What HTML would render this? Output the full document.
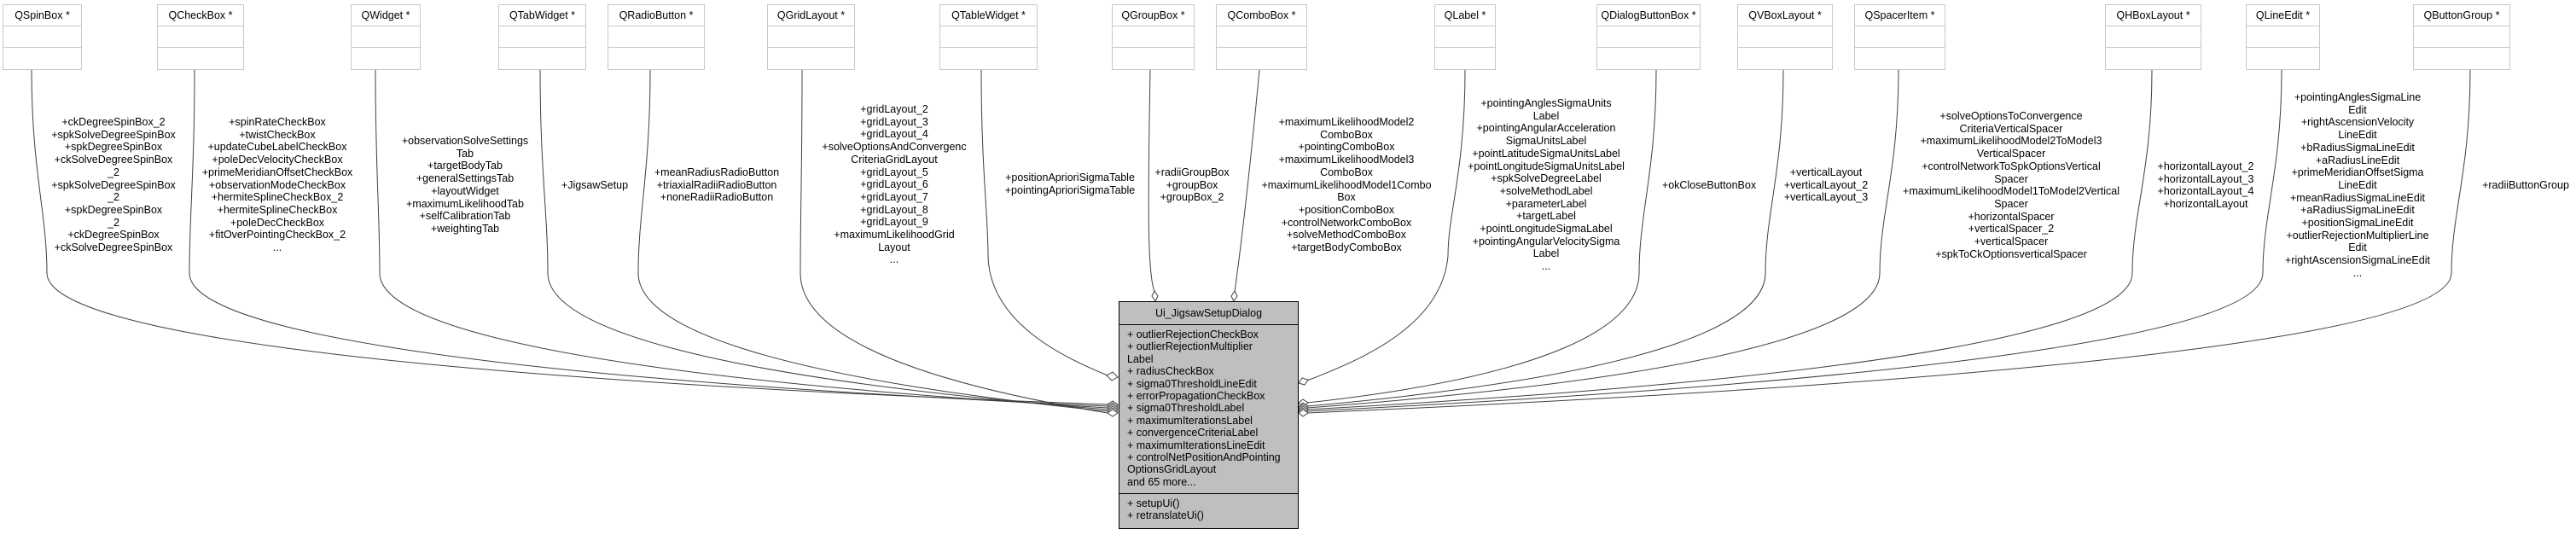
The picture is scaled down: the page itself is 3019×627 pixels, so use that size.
<!DOCTYPE html>
<html><head><meta charset="utf-8"><style>
body{margin:0;width:3019px;height:627px;background:#fff;position:relative;overflow:hidden;font-family:"Liberation Sans",sans-serif;}
.b{position:absolute;top:5px;height:77px;border:1px solid #c8c8c8;box-sizing:border-box;background:#fff;}
.b div{height:25px;border-bottom:1px solid #c8c8c8;box-sizing:border-box;font-size:12.5px;text-align:center;line-height:25px;white-space:nowrap;}
.b div:last-child{border-bottom:none}
.l{position:absolute;font-size:12.5px;line-height:14.7px;text-align:center;white-space:nowrap;transform:translateX(-50%);}
#c{position:absolute;left:1311px;top:353px;width:211px;height:267px;border:1px solid #000;box-sizing:border-box;background:#bfbfbf;font-size:12.5px;}
#c .t{height:26px;border-bottom:1px solid #000;text-align:center;line-height:26px;}
#c .a{padding:4px 0 0 9px;line-height:14.4px;height:198px;border-bottom:1px solid #000;box-sizing:border-box;white-space:nowrap;}
#c .m{padding:4px 0 0 9px;line-height:14.4px;}
svg{position:absolute;left:0;top:0}
</style></head><body>
<svg width="3019" height="627" fill="none" stroke="#404040" stroke-width="1">
<path d="M37,82 C37,200 55,250 55,320 C55,380 366,440 1298,474"/>
<path d="M228,82 C228,200 222,250 222,320 C222,380 491,440 1298,476"/>
<path d="M440,82 C440,200 445,250 445,320 C445,380 658,440 1298,478"/>
<path d="M633,82 C633,200 642,250 642,320 C642,380 806,440 1298,480"/>
<path d="M762,82 C762,200 748,250 748,320 C748,380 885,440 1298,482"/>
<path d="M940,82 C940,200 938,250 938,320 C938,380 1028,440 1298,484"/>
<path d="M1150,82 C1150,200 1158,250 1158,300 C1160,380 1250,420 1298,440"/>
<path d="M1348,82 C1345,250 1345,320 1353,342"/>
<path d="M1476,82 C1460,250 1450,320 1447,342"/>
<path d="M1717,82 C1717,200 1697,250 1697,300 C1690,380 1600,420 1532,446"/>
<path d="M1941,82 C1941,200 1921,250 1921,320 C1921,380 1824,440 1532,472"/>
<path d="M2090,82 C2090,200 2069,250 2069,320 C2069,380 1935,440 1532,476"/>
<path d="M2225,82 C2225,200 2203,250 2203,320 C2203,380 2035,440 1532,478"/>
<path d="M2522,82 C2522,200 2499,250 2499,320 C2499,380 2257,440 1532,480"/>
<path d="M2674,82 C2674,200 2652,250 2652,320 C2652,380 2372,440 1532,482"/>
<path d="M2895,82 C2895,200 2873,250 2873,320 C2873,380 2538,440 1532,484"/>
<g fill="#fff" stroke="#404040">
<polygon points="1310,474 1304,470 1298,474 1304,478"/>
<polygon points="1310,476 1304,472 1298,476 1304,480"/>
<polygon points="1310,478 1304,474 1298,478 1304,482"/>
<polygon points="1310,480 1304,476 1298,480 1304,484"/>
<polygon points="1310,482 1304,478 1298,482 1304,486"/>
<polygon points="1310,484 1304,480 1298,484 1304,488"/>
<polygon points="1310,442 1304,436 1297,440 1303,446"/>
<polygon points="1354,353 1350,347 1353,341 1357,347"/>
<polygon points="1446,353 1443,347 1447,341 1450,347"/>
<polygon points="1522,449 1526,443 1533,445 1529,451"/>
<polygon points="1522,472 1527,468 1533,472 1527,476"/>
<polygon points="1522,476 1527,472 1533,476 1527,480"/>
<polygon points="1522,478 1527,474 1533,478 1527,482"/>
<polygon points="1522,480 1527,476 1533,480 1527,484"/>
<polygon points="1522,482 1527,478 1533,482 1527,486"/>
<polygon points="1522,484 1527,480 1533,484 1527,488"/>
</g>
</svg>

<div class="b" style="left:3px;width:93px"><div>QSpinBox *</div><div></div><div></div></div>
<div class="b" style="left:184px;width:102px"><div>QCheckBox *</div><div></div><div></div></div>
<div class="b" style="left:411px;width:82px"><div>QWidget *</div><div></div><div></div></div>
<div class="b" style="left:584px;width:103px"><div>QTabWidget *</div><div></div><div></div></div>
<div class="b" style="left:712px;width:114px"><div>QRadioButton *</div><div></div><div></div></div>
<div class="b" style="left:899px;width:103px"><div>QGridLayout *</div><div></div><div></div></div>
<div class="b" style="left:1101px;width:115px"><div>QTableWidget *</div><div></div><div></div></div>
<div class="b" style="left:1303px;width:97px"><div>QGroupBox *</div><div></div><div></div></div>
<div class="b" style="left:1425px;width:107px"><div>QComboBox *</div><div></div><div></div></div>
<div class="b" style="left:1681px;width:72px"><div>QLabel *</div><div></div><div></div></div>
<div class="b" style="left:1871px;width:122px"><div>QDialogButtonBox *</div><div></div><div></div></div>
<div class="b" style="left:2036px;width:112px"><div>QVBoxLayout *</div><div></div><div></div></div>
<div class="b" style="left:2173px;width:107px"><div>QSpacerItem *</div><div></div><div></div></div>
<div class="b" style="left:2467px;width:113px"><div>QHBoxLayout *</div><div></div><div></div></div>
<div class="b" style="left:2632px;width:87px"><div>QLineEdit *</div><div></div><div></div></div>
<div class="b" style="left:2828px;width:114px"><div>QButtonGroup *</div><div></div><div></div></div>

<div class="l" style="left:133px;top:136px">+ckDegreeSpinBox_2<br>+spkSolveDegreeSpinBox<br>+spkDegreeSpinBox<br>+ckSolveDegreeSpinBox<br>_2<br>+spkSolveDegreeSpinBox<br>_2<br>+spkDegreeSpinBox<br>_2<br>+ckDegreeSpinBox<br>+ckSolveDegreeSpinBox</div>
<div class="l" style="left:325px;top:136px">+spinRateCheckBox<br>+twistCheckBox<br>+updateCubeLabelCheckBox<br>+poleDecVelocityCheckBox<br>+primeMeridianOffsetCheckBox<br>+observationModeCheckBox<br>+hermiteSplineCheckBox_2<br>+hermiteSplineCheckBox<br>+poleDecCheckBox<br>+fitOverPointingCheckBox_2<br>...</div>
<div class="l" style="left:545px;top:158px">+observationSolveSettings<br>Tab<br>+targetBodyTab<br>+generalSettingsTab<br>+layoutWidget<br>+maximumLikelihoodTab<br>+selfCalibrationTab<br>+weightingTab</div>
<div class="l" style="left:697px;top:210px">+JigsawSetup</div>
<div class="l" style="left:840px;top:195px">+meanRadiusRadioButton<br>+triaxialRadiiRadioButton<br>+noneRadiiRadioButton</div>
<div class="l" style="left:1048px;top:121px">+gridLayout_2<br>+gridLayout_3<br>+gridLayout_4<br>+solveOptionsAndConvergenc<br>CriteriaGridLayout<br>+gridLayout_5<br>+gridLayout_6<br>+gridLayout_7<br>+gridLayout_8<br>+gridLayout_9<br>+maximumLikelihoodGrid<br>Layout<br>...</div>
<div class="l" style="left:1254px;top:201px">+positionAprioriSigmaTable<br>+pointingAprioriSigmaTable</div>
<div class="l" style="left:1397px;top:195px">+radiiGroupBox<br>+groupBox<br>+groupBox_2</div>
<div class="l" style="left:1578px;top:136px">+maximumLikelihoodModel2<br>ComboBox<br>+pointingComboBox<br>+maximumLikelihoodModel3<br>ComboBox<br>+maximumLikelihoodModel1Combo<br>Box<br>+positionComboBox<br>+controlNetworkComboBox<br>+solveMethodComboBox<br>+targetBodyComboBox</div>
<div class="l" style="left:1812px;top:114px">+pointingAnglesSigmaUnits<br>Label<br>+pointingAngularAcceleration<br>SigmaUnitsLabel<br>+pointLatitudeSigmaUnitsLabel<br>+pointLongitudeSigmaUnitsLabel<br>+spkSolveDegreeLabel<br>+solveMethodLabel<br>+parameterLabel<br>+targetLabel<br>+pointLongitudeSigmaLabel<br>+pointingAngularVelocitySigma<br>Label<br>...</div>
<div class="l" style="left:2003px;top:210px">+okCloseButtonBox</div>
<div class="l" style="left:2140px;top:195px">+verticalLayout<br>+verticalLayout_2<br>+verticalLayout_3</div>
<div class="l" style="left:2357px;top:129px">+solveOptionsToConvergence<br>CriteriaVerticalSpacer<br>+maximumLikelihoodModel2ToModel3<br>VerticalSpacer<br>+controlNetworkToSpkOptionsVertical<br>Spacer<br>+maximumLikelihoodModel1ToModel2Vertical<br>Spacer<br>+horizontalSpacer<br>+verticalSpacer_2<br>+verticalSpacer<br>+spkToCkOptionsverticalSpacer</div>
<div class="l" style="left:2585px;top:188px">+horizontalLayout_2<br>+horizontalLayout_3<br>+horizontalLayout_4<br>+horizontalLayout</div>
<div class="l" style="left:2763px;top:107px">+pointingAnglesSigmaLine<br>Edit<br>+rightAscensionVelocity<br>LineEdit<br>+bRadiusSigmaLineEdit<br>+aRadiusLineEdit<br>+primeMeridianOffsetSigma<br>LineEdit<br>+meanRadiusSigmaLineEdit<br>+aRadiusSigmaLineEdit<br>+positionSigmaLineEdit<br>+outlierRejectionMultiplierLine<br>Edit<br>+rightAscensionSigmaLineEdit<br>...</div>
<div class="l" style="left:2960px;top:210px">+radiiButtonGroup</div>

<div id="c"><div class="t">Ui_JigsawSetupDialog</div>
<div class="a">+ outlierRejectionCheckBox<br>+ outlierRejectionMultiplier<br>Label<br>+ radiusCheckBox<br>+ sigma0ThresholdLineEdit<br>+ errorPropagationCheckBox<br>+ sigma0ThresholdLabel<br>+ maximumIterationsLabel<br>+ convergenceCriteriaLabel<br>+ maximumIterationsLineEdit<br>+ controlNetPositionAndPointing<br>OptionsGridLayout<br>and 65 more...</div>
<div class="m">+ setupUi()<br>+ retranslateUi()</div></div>
</body></html>
